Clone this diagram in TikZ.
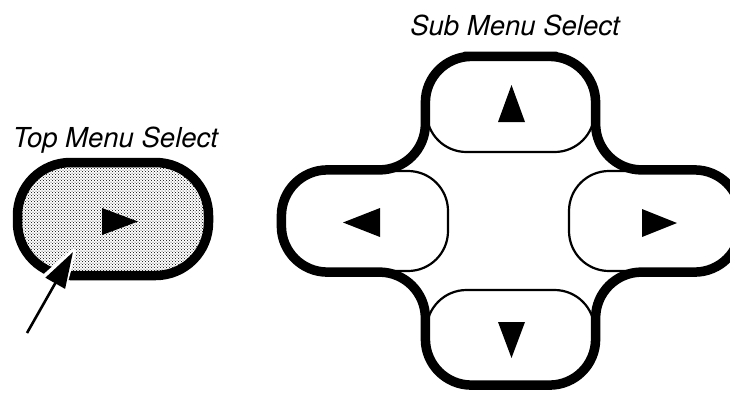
\documentclass[tikz,border=0pt]{standalone}
\usepackage{fontspec}
\setmainfont{TeX Gyre Heros}
\usetikzlibrary{arrows.meta,patterns}

\begin{document}
\begin{tikzpicture}[
  x=1pt, y=-1pt,
  caption/.style={anchor=base, inner sep=0pt, font=\fontsize{27.5}{30}\selectfont\itshape},
  button/.style={draw, rounded corners=40pt, line width=2.2pt, fill=white, inner sep=0pt},
  rim/.style={draw, rounded corners=46pt, line width=9.5pt, line join=round},
  glyph/.style={fill=black},
  pointer/.style={line width=2.6pt, -{Triangle[length=36pt, width=22pt]}},
  halo/.style={draw=white, line width=6pt, line join=round}
]
\useasboundingbox (0,0) rectangle (730,392);

% top menu key
\node[caption] (topcap) at (115.5,147) {Top Menu Select};
\node[draw, rounded corners=53pt, line width=9.5pt, pattern=crosshatch dots, pattern color=black, inner sep=0pt, minimum width=191pt, minimum height=113pt] (topsel) at (113,219) {};
\fill[glyph] (102,208) -- (102,235) -- (138,221.5) -- cycle;
\coordinate (foot) at (27,333);
\coordinate (hit) at (73,252);
\draw[halo] (hit) -- (46,276) -- (63,289) -- cycle;
\draw[pointer] (foot) -- (hit);

% sub menu cross
\node[caption] (subcap) at (515,35) {Sub Menu Select};
\node[button, minimum width=168pt, minimum height=94.5pt] (up) at (510.5,104.75) {};
\node[button, minimum width=168pt, minimum height=94pt] (dn) at (510.5,337) {};
\node[button, minimum width=165.5pt, minimum height=100pt] (lt) at (365.25,221) {};
\node[button, minimum width=170.5pt, minimum height=100pt] (rt) at (654.25,221) {};
\draw[rim] (up.north) -- (up.north east) -- (up.east |- rt.north) -- (rt.north east)
  -- (rt.south east) -- (dn.east |- rt.south) -- (dn.south east) -- (dn.south west)
  -- (dn.west |- lt.south) -- (lt.south west) -- (lt.north west) -- (up.west |- lt.north)
  -- (up.north west) -- cycle;
\fill[glyph] (498,122) -- (525,122) -- (511.5,85) -- cycle;
\fill[glyph] (498,322) -- (525,322) -- (511.5,358) -- cycle;
\fill[glyph] (380,208) -- (380,237) -- (343,222.5) -- cycle;
\fill[glyph] (642,209) -- (642,237) -- (677,223) -- cycle;
\end{tikzpicture}
\end{document}
